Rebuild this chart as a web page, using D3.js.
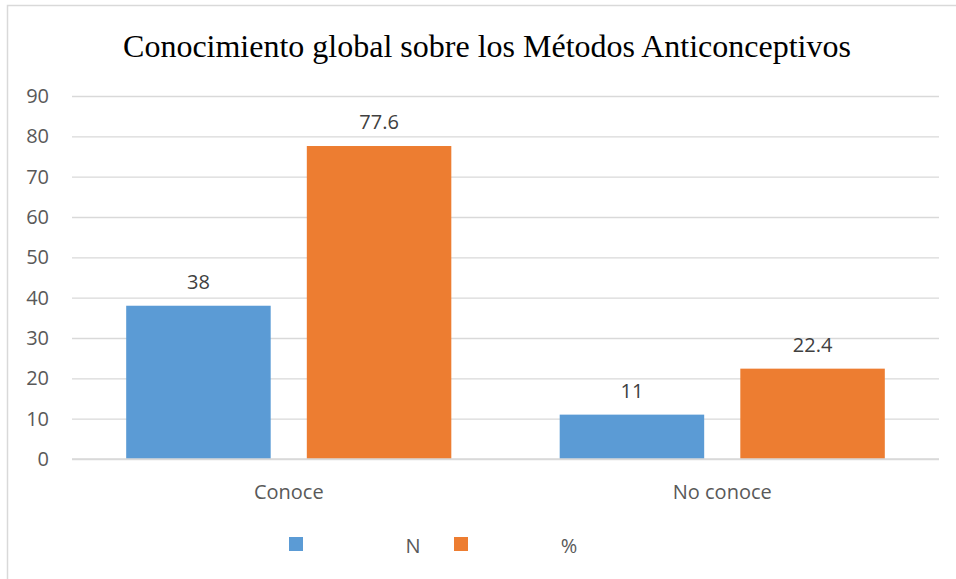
<!DOCTYPE html>
<html><head><meta charset="utf-8">
<script src="https://cdn.jsdelivr.net/npm/d3@7"></script>
<style>body{margin:0;background:#fff}svg{display:block}</style>
</head><body>
<script>
const categories = ["Conoce", "No conoce"];
const seriesNames = ["N", "%"];
const seriesN = [38, 11];
const seriesPct = [77.6, 22.4];
const labelsN = ["38", "11"];
const labelsPct = ["77.6", "22.4"];
const yTicks = [0, 10, 20, 30, 40, 50, 60, 70, 80, 90];
const colors = ["#5b9bd5", "#ed7d31"];

const W = 956, H = 579;
const FONT = "Open Sans, Liberation Sans, sans-serif";
const FS = 20;
const svg = d3.select("body").append("svg").attr("width", W).attr("height", H);
svg.append("rect").attr("x", 7.5).attr("y", 5.5).attr("width", W + 10).attr("height", H + 10)
  .attr("fill", "#fff").attr("stroke", "#d9d9d9").attr("stroke-width", 1.5);

const mLeft = 72, mRight = 939, mTop = 96, mBottom = 459;
const y = d3.scaleLinear().domain([0, 90]).range([mBottom, mTop]);
const x0 = d3.scaleBand().domain(categories).range([mLeft, mRight]).paddingInner(0.25).paddingOuter(0.125);
const x1 = d3.scaleBand().domain(seriesNames).range([0, x0.bandwidth()]).paddingInner(0.2);

svg.append("text").attr("x", 487).attr("y", 57).attr("text-anchor", "middle")
  .attr("font-family", "Liberation Serif, Times New Roman, serif").attr("font-size", 32)
  .attr("fill", "#000").text("Conocimiento global sobre los Métodos Anticonceptivos");

const yAxis = d3.axisLeft(y).tickValues(yTicks).tickSize(-(mRight - mLeft));
const gy = svg.append("g").attr("transform", `translate(${mLeft},0)`).call(yAxis);
gy.select(".domain").remove();
gy.selectAll(".tick line").attr("stroke", "#d9d9d9").attr("stroke-width", 1.3);
gy.selectAll(".tick text").attr("font-family", FONT)
  .attr("font-size", FS).attr("fill", "#595959").attr("x", -23);

const data = categories.map((c, i) => ({c, vals: [
  {s: "N", v: seriesN[i], l: labelsN[i], col: colors[0]},
  {s: "%", v: seriesPct[i], l: labelsPct[i], col: colors[1]}]}));

const g = svg.selectAll(".grp").data(data).enter().append("g")
  .attr("transform", d => `translate(${x0(d.c)},0)`);
g.selectAll("rect").data(d => d.vals).enter().append("rect")
  .attr("x", d => x1(d.s)).attr("width", x1.bandwidth())
  .attr("y", d => y(d.v)).attr("height", d => y(0) - y(d.v)).attr("fill", d => d.col);
g.selectAll("text").data(d => d.vals).enter().append("text")
  .attr("x", d => x1(d.s) + x1.bandwidth() / 2).attr("y", d => y(d.v) - 17)
  .attr("text-anchor", "middle").attr("font-family", FONT)
  .attr("font-size", FS).attr("fill", "#404040").text(d => d.l);

svg.append("line").attr("x1", mLeft).attr("x2", mRight).attr("y1", mBottom).attr("y2", mBottom)
  .attr("stroke", "#d9d9d9").attr("stroke-width", 1.3);

svg.selectAll(".cat").data(categories).enter().append("text")
  .attr("x", d => x0(d) + x0.bandwidth() / 2).attr("y", 499).attr("text-anchor", "middle")
  .attr("font-family", FONT).attr("font-size", FS)
  .attr("fill", "#595959").text(d => d);

const legX = [289, 454], legTextX = [413, 569];
seriesNames.forEach((s, i) => {
  svg.append("rect").attr("x", legX[i]).attr("y", 537).attr("width", 14).attr("height", 14).attr("fill", colors[i]);
  svg.append("text").attr("x", legTextX[i]).attr("y", 553).attr("text-anchor", "middle")
    .attr("font-family", FONT).attr("font-size", FS)
    .attr("fill", "#595959").text(s);
});
</script>
</body></html>
